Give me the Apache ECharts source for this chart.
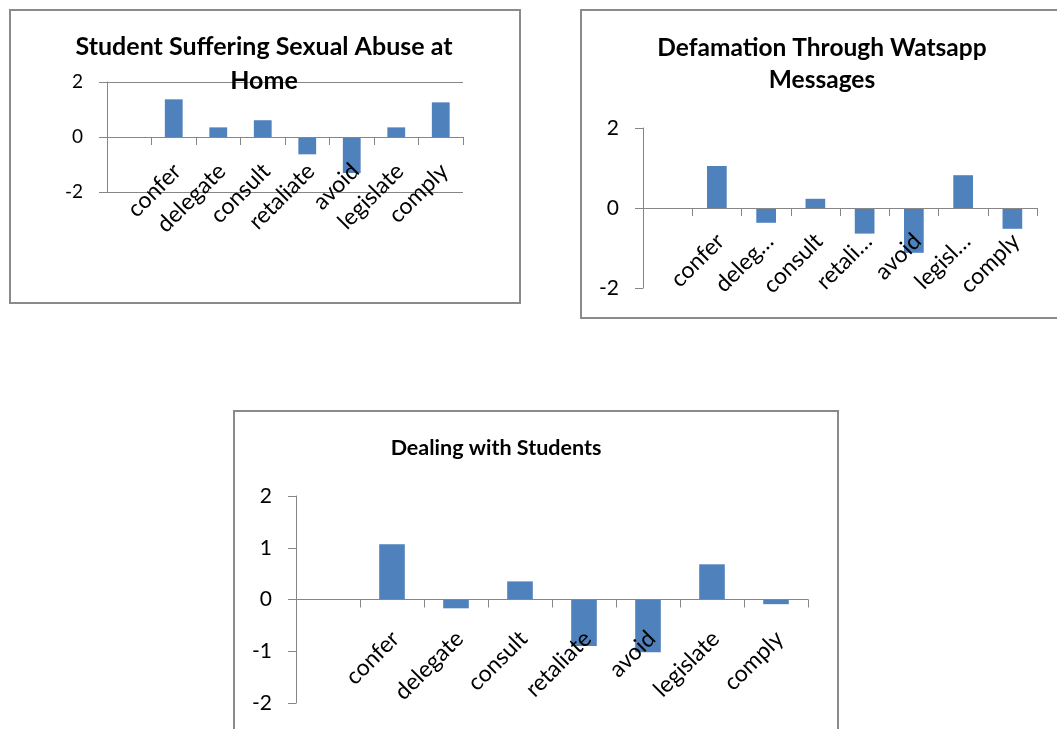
<!DOCTYPE html>
<html>
<head>
<meta charset="utf-8">
<script src="https://cdn.jsdelivr.net/npm/echarts@6/dist/echarts.min.js"></script>
<style>
  html, body { margin: 0; padding: 0; background: #ffffff; }
  #chart { width: 1057px; height: 729px; }
</style>
</head>
<body>
<div id="chart"></div>
<script>
// Strategy categories (the first slot is left empty on purpose)
const categories = ['', 'confer', 'delegate', 'consult', 'retaliate', 'avoid', 'legislate', 'comply'];
// Shortened tick labels used on the narrower Watsapp panel
const watsappTickLabels = ['', 'confer', 'deleg\u2026', 'consult', 'retali\u2026', 'avoid', 'legisl\u2026', 'comply'];

// Scores per strategy
const abuseAtHome = [null, 1.37, 0.35, 0.61, -0.63, -1.31, 0.35, 1.26];
const watsappDefamation = [null, 1.05, -0.37, 0.23, -0.64, -1.12, 0.82, -0.52];
const dealingWithStudents = [null, 1.07, -0.17, 0.35, -0.90, -1.02, 0.68, -0.09];

const panelTitles = [
  'Student Suffering Sexual Abuse at\nHome',
  'Defamation Through Watsapp\nMessages',
  'Dealing with Students'
];

const Y_MIN = -2;
const Y_MAX = 2;

const FONT = 'Lato, "Open Sans", sans-serif';
const LINE = '#868686';
const BAR = '#4F81BD';

const panels = [
  { grid: { left: 107, top: 82, width: 356, height: 110 }, interval: 2, split: true,
    labels: categories, values: abuseAtHome, yFont: 19, xFont: 23, xMargin: 34,
    title: { x: 264, y: 30, lh: 34, size: 25 } },
  { grid: { left: 643, top: 128, width: 394, height: 160 }, interval: 2, split: false,
    labels: watsappTickLabels, values: watsappDefamation, yFont: 21, xFont: 23, xMargin: 33,
    title: { x: 822, y: 32, lh: 32, size: 24.5 } },
  { grid: { left: 296, top: 496, width: 512, height: 207 }, interval: 1, split: false,
    labels: categories, values: dealingWithStudents, yFont: 21, xFont: 23, xMargin: 39,
    title: { x: 496, y: 433, lh: 30, size: 21.5 } }
];

// The category axis sits on the zero line: shift it up from the grid bottom
function zeroOffset(p) {
  return -p.grid.height * (0 - Y_MIN) / (Y_MAX - Y_MIN);
}

const option = {
  backgroundColor: '#ffffff',
  animation: false,
  title: panels.map((p, i) => ({
    text: panelTitles[i],
    left: p.title.x,
    top: p.title.y,
    textAlign: 'center',
    padding: 0,
    textStyle: { fontFamily: FONT, fontWeight: 'bold', fontSize: p.title.size, color: '#000', lineHeight: p.title.lh }
  })),
  grid: panels.map(p => Object.assign({ containLabel: false, outerBoundsMode: 'none' }, p.grid)),
  xAxis: panels.map((p, i) => ({
    type: 'category',
    gridIndex: i,
    data: p.labels,
    position: 'bottom',
    offset: zeroOffset(p),
    boundaryGap: true,
    z: 5,
    axisLine: { show: true, onZero: false, lineStyle: { color: LINE, width: 1 } },
    axisTick: { show: true, interval: 0, length: 8, lineStyle: { color: LINE, width: 1 } },
    axisLabel: { interval: 0, rotate: 45, margin: p.xMargin, fontFamily: FONT, fontSize: p.xFont, color: '#000', padding: [0, -5, 0, 0] },
    splitLine: { show: false }
  })),
  yAxis: panels.map((p, i) => ({
    type: 'value',
    gridIndex: i,
    min: Y_MIN,
    max: Y_MAX,
    interval: p.interval,
    axisLine: { show: true, lineStyle: { color: LINE, width: 1 } },
    axisTick: { show: true, length: 8, lineStyle: { color: LINE, width: 1 } },
    axisLabel: { margin: 24, fontFamily: FONT, fontSize: p.yFont, color: '#000' },
    splitLine: { show: p.split, lineStyle: { color: LINE, width: 1 } }
  })),
  series: panels.map((p, i) => ({
    type: 'bar',
    xAxisIndex: i,
    yAxisIndex: i,
    data: p.values,
    barWidth: '40%',
    itemStyle: { color: BAR },
    silent: true
  })),
  graphic: [
    { type: 'rect', shape: { x: 10, y: 10, width: 510, height: 293 }, style: { fill: null, stroke: '#8a8a8a', lineWidth: 2 }, z: -1 },
    { type: 'rect', shape: { x: 581, y: 10, width: 520, height: 308 }, style: { fill: null, stroke: '#8a8a8a', lineWidth: 2 }, z: -1 },
    { type: 'rect', shape: { x: 234, y: 411, width: 604, height: 400 }, style: { fill: null, stroke: '#8a8a8a', lineWidth: 2 }, z: -1 }
  ]
};

const chart = echarts.init(document.getElementById('chart'), null, { renderer: 'canvas' });
chart.setOption(option);
</script>
</body>
</html>
